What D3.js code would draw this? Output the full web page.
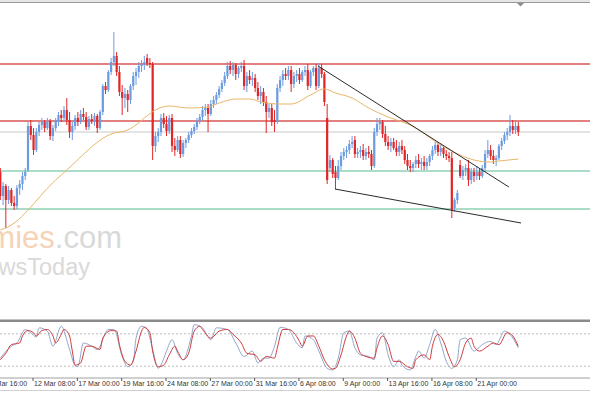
<!DOCTYPE html>
<html>
<head>
<meta charset="utf-8">
<script src="https://cdnjs.cloudflare.com/ajax/libs/d3/7.8.5/d3.min.js"></script>
<style>
  body { margin: 0; background: #fff; }
  svg { display: block; }
</style>
</head>
<body>
<div id="chart"></div>
<script>
// H4 candles, one value per bar
const opens = [
  1146,1122,1132,1118,1128,1115,1112,1130,1134,1142,
  1148,1192,1183,1168,1186,1193,1196,1190,1197,1182,
  1190,1198,1203,1200,1208,1198,1186,1192,1200,1196,
  1204,1201,1191,1199,1197,1202,1190,1206,1232,1228,
  1246,1256,1262,1246,1226,1220,1224,1218,1232,1242,
  1246,1252,1254,1260,1255,1254,1172,1182,1186,1200,
  1194,1187,1200,1172,1168,1178,1164,1175,1178,1183,
  1187,1191,1197,1201,1208,1210,1204,1214,1218,1223,
  1229,1235,1242,1252,1248,1253,1244,1250,1252,1232,
  1242,1238,1240,1230,1222,1226,1216,1206,1210,1198,
  1196,1230,1238,1244,1242,1248,1234,1242,1244,1238,
  1246,1248,1232,1246,1250,1232,1250,1244,1200,1150,
  1158,1146,1140,1152,1162,1166,1168,1174,1178,1164,
  1166,1168,1162,1166,1164,1152,1186,1194,1196,1184,
  1176,1172,1176,1170,1166,1172,1168,1158,1152,1150,
  1154,1158,1154,1156,1152,1156,1162,1168,1173,1166,
  1170,1164,1162,1160,1110,1118,1153,1142,1148,1150,
  1138,1146,1142,1146,1142,1150,1164,1168,1162,1158,
  1160,1172,1177,1183,1186,1192,1188,1192
];
const highs = [
  1150,1136,1134,1132,1130,1122,1133,1138,1146,1150,
  1196,1198,1190,1190,1196,1200,1198,1200,1199,1193,
  1200,1206,1208,1212,1220,1206,1196,1203,1206,1208,
  1210,1206,1202,1204,1205,1204,1208,1234,1236,1248,
  1260,1286,1266,1252,1233,1230,1228,1234,1246,1250,
  1256,1258,1262,1264,1260,1256,1186,1190,1204,1205,
  1202,1203,1204,1180,1182,1182,1178,1180,1186,1190,
  1194,1200,1204,1212,1214,1214,1218,1222,1226,1232,
  1238,1246,1256,1257,1256,1255,1252,1256,1258,1246,
  1248,1246,1244,1236,1232,1230,1222,1214,1214,1208,
  1234,1242,1248,1250,1252,1252,1246,1248,1250,1248,
  1252,1254,1248,1252,1254,1255,1254,1246,1214,1163,
  1160,1152,1158,1166,1170,1172,1178,1182,1182,1170,
  1172,1174,1170,1172,1168,1190,1200,1200,1198,1192,
  1182,1180,1180,1178,1176,1178,1172,1164,1158,1156,
  1162,1164,1160,1162,1160,1164,1172,1176,1176,1174,
  1172,1168,1166,1166,1120,1128,1158,1152,1154,1158,
  1150,1150,1152,1150,1153,1168,1178,1173,1168,1163,
  1174,1180,1186,1190,1203,1198,1196,1196
];
const lows = [
  1118,1113,1090,1114,1112,1108,1109,1123,1128,1138,
  1146,1178,1163,1166,1182,1188,1186,1188,1178,1177,
  1187,1192,1196,1197,1193,1180,1178,1188,1192,1194,
  1198,1188,1188,1194,1192,1185,1188,1203,1224,1226,
  1243,1252,1242,1222,1203,1210,1206,1214,1228,1233,
  1240,1246,1248,1252,1250,1158,1166,1176,1182,1190,
  1182,1184,1166,1162,1166,1160,1161,1170,1175,1180,
  1184,1188,1194,1198,1202,1186,1202,1210,1214,1220,
  1226,1232,1239,1244,1242,1238,1240,1246,1228,1226,
  1234,1232,1226,1218,1214,1212,1185,1200,1192,1186,
  1194,1226,1232,1238,1238,1226,1230,1236,1234,1236,
  1242,1228,1230,1242,1228,1230,1240,1212,1134,1146,
  1140,1129,1138,1148,1158,1160,1164,1170,1160,1160,
  1160,1158,1158,1160,1148,1150,1182,1188,1180,1172,
  1168,1166,1168,1162,1162,1164,1154,1148,1146,1146,
  1150,1150,1148,1148,1148,1152,1158,1164,1162,1162,
  1160,1158,1156,1100,1106,1114,1140,1138,1142,1132,
  1134,1136,1138,1138,1140,1146,1160,1158,1154,1152,
  1158,1168,1174,1178,1182,1184,1184,1182
];
const closes = [
  1122,1132,1118,1128,1115,1112,1130,1134,1142,1146,
  1192,1183,1168,1186,1193,1196,1190,1197,1182,1190,
  1198,1203,1200,1208,1198,1186,1192,1200,1196,1204,
  1201,1191,1199,1197,1202,1190,1206,1232,1228,1246,
  1256,1262,1246,1226,1220,1224,1218,1232,1242,1246,
  1252,1254,1256,1255,1254,1172,1182,1186,1200,1194,
  1187,1200,1172,1168,1178,1164,1175,1178,1183,1187,
  1191,1197,1201,1208,1210,1204,1214,1218,1223,1229,
  1235,1242,1252,1248,1253,1244,1250,1252,1232,1242,
  1238,1240,1230,1222,1226,1216,1206,1210,1196,1196,
  1230,1238,1244,1242,1248,1234,1242,1244,1238,1246,
  1248,1232,1246,1250,1232,1250,1244,1216,1138,1158,
  1144,1140,1152,1162,1166,1168,1174,1176,1164,1166,
  1168,1162,1166,1164,1152,1186,1194,1196,1184,1176,
  1172,1176,1170,1166,1172,1168,1158,1152,1150,1154,
  1158,1154,1156,1152,1156,1162,1168,1173,1166,1170,
  1164,1162,1160,1108,1118,1125,1142,1148,1150,1138,
  1146,1142,1146,1142,1150,1164,1168,1162,1158,1160,
  1172,1177,1183,1186,1192,1188,1192,1186
];

// moving average, read at these bars
const maBars   = [0,2,20,24,41,45,49,52,56,61,68,75,79,85,90,94,101,105,112,117,121,127,133,140,143,148,159,166,171,177,180,187];
const maValues = [1088,1090,1138,1148,1185,1187,1193,1200,1208,1212,1210,1211,1215,1219,1219,1216,1214,1214,1223,1229,1225,1220,1210,1201,1198,1193,1173,1163,1158,1156,1157,1159];

// stochastic oscillator: %K (blue) and %D (red)
const stochKBars = [0,4,6,9,11,13,14,17,19,22,25,27,28,30,33,35,39,41,44,46,48,49,51,53,55,57,58,60,62,64,66,69,70,73,76,78,82,85,88,91,93,95,97,99,101,104,107,109,110,113,115,118,120,122,124,126,128,130,133,135,136,138,140,142,144,145,148,150,151,153,155,157,159,161,163,165,166,168,171,172,174,177,179,182,184,187];
const stochK = [35,57,63,88,82,74,91,85,57,94,51,21,19,63,57,51,88,88,38,19,29,72,94,88,51,16,22,48,69,44,32,76,97,91,69,91,88,63,38,48,26,35,35,57,92,88,63,54,76,69,48,16,13,35,82,85,54,41,38,32,72,82,41,19,32,22,13,38,48,35,60,88,63,29,16,32,69,72,48,51,60,66,60,85,79,54];
const stochDBars = [0,2,4,7,8,10,12,13,15,17,19,20,22,23,25,26,27,29,31,33,36,37,40,42,43,45,47,49,51,52,54,55,57,59,61,63,64,66,68,70,72,73,76,79,82,84,87,89,92,94,96,99,100,102,104,106,108,109,111,113,115,117,120,121,123,125,126,128,130,132,135,136,138,140,142,144,147,149,150,153,155,156,158,160,162,164,166,168,170,171,173,176,178,180,183,185,187];
const stochD = [32,44,60,63,76,86,82,76,86,88,76,63,79,88,76,48,22,26,57,57,51,72,86,85,60,29,22,48,85,92,82,48,19,22,41,57,48,32,44,85,94,88,72,85,88,79,63,44,41,29,38,35,54,88,88,82,66,57,76,76,57,32,15,16,41,76,85,72,44,38,35,54,76,60,29,29,19,16,32,41,32,57,79,66,38,19,32,63,72,57,48,57,63,60,82,76,57];
const stochLevels = [80, 20];

// drawn objects
const resistanceLevels = [1254, 1197];
const pivotLevels = [1186];
const supportLevels = [1147, 1109];
const upperTrendBars = [114.7, 183.6], upperTrendPrices = [1252, 1131];
const lowerTrendBars = [120.8, 188.0], lowerTrendPrices = [1129, 1095];

// time axis
const tickBars = [-4, 12, 28, 44, 60, 76, 92, 108, 124, 140, 156, 172];
const tickLabels = ["9 Mar 16:00", "12 Mar 08:00", "17 Mar 00:00", "19 Mar 16:00", "24 Mar 08:00", "27 Mar 00:00",
                    "31 Mar 16:00", "6 Apr 08:00", "9 Apr 00:00", "13 Apr 16:00", "16 Apr 08:00", "21 Apr 00:00"];

const W = 590, H = 393;
const main = { top: 4, bottom: 318 };
const sub = { top: 323, bottom: 377 };

const svg = d3.select("#chart").append("svg").attr("width", W).attr("height", H);
svg.append("rect").attr("width", W).attr("height", H).attr("fill", "#fff");

const x = d3.scaleLinear().domain([0, 187]).range([0.3, 518.3]);
const y = d3.scaleLinear().domain([1000, 1314]).range([main.bottom, main.top]);
const ys = d3.scaleLinear().domain([0, 100]).range([sub.bottom, sub.top]);

const defs = svg.append("defs");
defs.append("clipPath").attr("id", "clipMain").append("rect")
  .attr("x", 0).attr("y", main.top).attr("width", W).attr("height", main.bottom - main.top);
defs.append("clipPath").attr("id", "clipSub").append("rect")
  .attr("x", 0).attr("y", sub.top).attr("width", W).attr("height", sub.bottom - sub.top);

const g = svg.append("g").attr("clip-path", "url(#clipMain)");

// watermark
const wm = g.append("g").style("font-family", "'Liberation Sans', Arial, sans-serif");
const wm1 = wm.append("text").attr("x", 122).attr("y", 248).attr("text-anchor", "end").style("font-size", "31px");
wm1.append("tspan").attr("fill", "#f6d3b6").text("economies");
wm1.append("tspan").attr("fill", "#d9d9d9").text(".com");
wm.append("text").attr("x", 90).attr("y", 275).attr("text-anchor", "end")
  .style("font-size", "23.5px").attr("fill", "#d9d9d9").text("NewsToday");

// horizontal levels
function hLines(levels, color, width) {
  g.selectAll(null).data(levels).enter().append("line")
    .attr("x1", 0).attr("x2", W)
    .attr("y1", d => y(d)).attr("y2", d => y(d))
    .attr("stroke", color).attr("stroke-width", width);
}
hLines(pivotLevels, "#c9c9c9", 1);
hLines(resistanceLevels, "#d85656", 1.3);
hLines(supportLevels, "#8fd0b6", 1.3);

// candles
const bars = closes.map((c, i) => ({ i, o: opens[i], h: highs[i], l: lows[i], c }));
const up = "#6b9be0", down = "#e02626";
const candle = g.append("g").selectAll("g").data(bars).enter().append("g");
candle.append("line")
  .attr("x1", d => x(d.i)).attr("x2", d => x(d.i))
  .attr("y1", d => y(d.h)).attr("y2", d => y(d.l))
  .attr("stroke", d => d.c >= d.o ? up : down).attr("stroke-width", 1);
candle.append("rect")
  .attr("x", d => x(d.i) - 1.1).attr("width", 2.2)
  .attr("y", d => y(Math.max(d.o, d.c)))
  .attr("height", d => Math.max(1, Math.abs(y(d.o) - y(d.c))))
  .attr("fill", d => d.c >= d.o ? up : down);

// moving average
const maLine = d3.line().x(d => x(d[0])).y(d => y(d[1])).curve(d3.curveMonotoneX);
g.append("path").datum(maBars.map((b, k) => [b, maValues[k]]))
  .attr("d", maLine).attr("fill", "none").attr("stroke", "#e8b66a").attr("stroke-width", 1);

// trend lines
[[upperTrendBars, upperTrendPrices], [lowerTrendBars, lowerTrendPrices]].forEach(([bs, ps]) => {
  g.append("line")
    .attr("x1", x(bs[0])).attr("y1", y(ps[0]))
    .attr("x2", x(bs[1])).attr("y2", y(ps[1]))
    .attr("stroke", "#2b2b2b").attr("stroke-width", 1);
});

// frame bits
svg.append("rect").attr("x", 0).attr("y", 0).attr("width", W).attr("height", 2).attr("fill", "#e6e6e6");
svg.append("line").attr("x1", 0).attr("x2", W).attr("y1", 2.5).attr("y2", 2.5).attr("stroke", "#9a9a9a");
svg.append("path").attr("d", d3.line()([[517, 3], [524, 3], [520.5, 6.5]])).attr("fill", "#8c8c8c");
svg.append("rect").attr("x", 0).attr("y", 319.5).attr("width", W).attr("height", 2.5).attr("fill", "#8a8a8a");

// stochastic panel
const gs = svg.append("g").attr("clip-path", "url(#clipSub)");
gs.selectAll(null).data(stochLevels).enter().append("line")
  .attr("x1", 0).attr("x2", W)
  .attr("y1", d => ys(d)).attr("y2", d => ys(d))
  .attr("stroke", "#bdbdbd").attr("stroke-width", 1).attr("stroke-dasharray", "2,2");
const stLine = d3.line().x(d => x(d[0])).y(d => ys(d[1])).curve(d3.curveMonotoneX);
gs.append("path").datum(stochKBars.map((b, k) => [b, stochK[k]]))
  .attr("d", stLine).attr("fill", "none").attr("stroke", "#93a7cc").attr("stroke-width", 1);
gs.append("path").datum(stochDBars.map((b, k) => [b, stochD[k]]))
  .attr("d", stLine).attr("fill", "none").attr("stroke", "#cf3b3b").attr("stroke-width", 1);

svg.append("line").attr("x1", 0).attr("x2", W).attr("y1", 378).attr("y2", 378).attr("stroke", "#a0a0a0");
svg.append("line").attr("x1", 0).attr("x2", W).attr("y1", 390.5).attr("y2", 390.5).attr("stroke", "#d0d0d0");

// time labels
const ax = svg.append("g");
ax.selectAll("line").data(tickBars).enter().append("line")
  .attr("x1", d => x(d) - 0.5).attr("x2", d => x(d) - 0.5)
  .attr("y1", 378).attr("y2", 381).attr("stroke", "#555");
ax.selectAll("text").data(tickBars).enter().append("text")
  .attr("x", d => x(d) + 0.5).attr("y", 386)
  .style("font-family", "'Liberation Sans', Arial, sans-serif").style("font-size", "7px")
  .attr("fill", "#333")
  .text((d, k) => tickLabels[k]);
</script>
</body>
</html>
